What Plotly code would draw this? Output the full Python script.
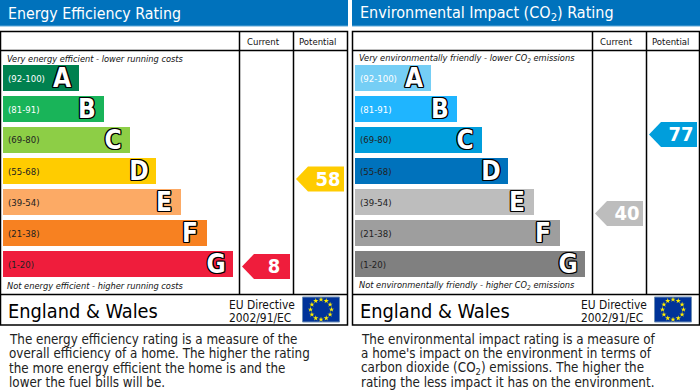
import math
import plotly.graph_objects as go

W, H = 700, 391
FONT = "DejaVu Sans Condensed, DejaVu Sans, sans-serif"
ROW0, PITCH = 78, 31

letters = ["A", "B", "C", "D", "E", "F", "G"]
ranges = ["(92-100)", "(81-91)", "(69-80)", "(55-68)", "(39-54)", "(21-38)", "(1-20)"]
range_colors = ["#ffffff", "#ffffff", "#222222", "#222222", "#222222", "#222222", "#222222"]

energy_lengths = [76, 101, 127, 153, 178, 204, 230]
env_lengths = [76, 102, 127, 153, 179, 205, 230]
energy_colors = ["#00814F", "#19B459", "#8DCE46", "#FFCC00", "#FCAA65", "#F78121", "#EF1D3C"]
env_colors = ["#75CEF5", "#1FB5FF", "#009EDC", "#0072BC", "#BDBDBD", "#9E9E9E", "#808080"]

energy_scores = [("Current", 8, 6.08, "#EF1D3C"), ("Potential", 58, 3.26, "#FFCC00")]
env_scores = [("Current", 40, 4.37, "#BDBDBD"), ("Potential", 77, 1.82, "#009EDC")]

energy_text = ["The energy efficiency rating is a measure of the",
               "overall efficiency of a home. The higher the rating",
               "the more energy efficient the home is and the",
               "lower the fuel bills will be."]
env_text = ["The environmental impact rating is a measure of",
            "a home's impact on the environment in terms of",
            "carbon dioxide (CO<sub>2</sub>) emissions. The higher the",
            "rating the less impact it has on the environment."]

panels = [
    dict(x0=0, x1=348, hdr0=0, hdr1=348, bar0=3, col1=239.5, col2=293.5, lengths=energy_lengths,
         colors=energy_colors, scores=energy_scores, title="Energy Efficiency Rating", title_size=15.8,
         top="Very energy efficient - lower running costs",
         bottom="Not energy efficient - higher running costs", text=energy_text),
    dict(x0=352, x1=700, hdr0=352, hdr1=700, bar0=355, col1=592.5, col2=646.5, lengths=env_lengths,
         colors=env_colors, scores=env_scores, title="Environmental Impact (CO<sub>2</sub>) Rating", title_size=16,
         top="Very environmentally friendly - lower CO<sub>2</sub> emissions",
         bottom="Not environmentally friendly - higher CO<sub>2</sub> emissions", text=env_text),
]

fig = go.Figure()
shapes, ann = [], []


def py(p):
    return 1 - p / H


def label(x, y, text, size, color="#111111", anchor="left", italic=False, bold=False):
    ann.append(dict(xref="x", yref="paper", x=x, y=py(y), text=text, showarrow=False,
                    xanchor=anchor, yanchor="middle", align=anchor,
                    borderpad=0, borderwidth=0,
                    font=dict(family=FONT, size=size, color=color,
                              style="italic" if italic else "normal",
                              weight="bold" if bold else "normal")))


def rect(x0, y0, x1, y1, fill=None, line=None, width=1.5):
    shapes.append(dict(type="rect", xref="x", yref="paper", x0=x0, x1=x1, y0=py(y0), y1=py(y1),
                       fillcolor=fill or "rgba(0,0,0,0)",
                       line=dict(color=line or "rgba(0,0,0,0)", width=width if line else 0),
                       layer="below"))


def seg(x0, y0, x1, y1):
    shapes.append(dict(type="line", xref="x", yref="paper", x0=x0, x1=x1, y0=py(y0), y1=py(y1),
                       line=dict(color="#000000", width=1.5), layer="above"))


OUTLINE = ",".join(f"{a}px {b}px 0 #000" for a, b in
                   [(1.2, 0), (-1.2, 0), (0, 1.2), (0, -1.2), (1, 1), (-1, 1), (1, -1), (-1, -1)])

for p in panels:
    # header and frame
    rect(p["hdr0"], 0, p["hdr1"], 26, fill="#0072BC")
    rect(p["hdr0"], 25.5, p["hdr1"], 26.5, fill="#5FA8D8")
    label(p["x0"] + 7.5, 13.5, p["title"], p["title_size"], color="#ffffff")
    rect(p["x0"] + 0.5, 31.5, p["x1"] - 0.5, 325, line="#000000")
    seg(p["x0"], 50.5, p["x1"], 50.5)
    seg(p["x0"], 294.5, p["x1"], 294.5)
    seg(p["col1"], 31.5, p["col1"], 294.5)
    seg(p["col2"], 31.5, p["col2"], 294.5)
    label(p["col1"] + 23.5, 41, "Current", 9.5, anchor="center")
    label(p["col2"] + 23.5, 41, "Potential", 9.5, anchor="center")
    label(p["x0"] + 6.5, 58.5, p["top"], 9.2, italic=True)
    label(p["x0"] + 6.5, 285, p["bottom"], 9.2, italic=True)

    # rating bands
    rows = list(range(len(letters)))
    fig.add_trace(go.Bar(y=rows, x=p["lengths"], base=[p["bar0"]] * 7, orientation="h", width=26 / PITCH,
                         marker=dict(color=p["colors"], line=dict(width=0)), hoverinfo="skip"))
    for r, t, c in zip(rows, ranges, range_colors):
        label(p["bar0"] + 4.5, ROW0 + PITCH * r, t, 9.5, color=c)
    fig.add_trace(go.Scatter(y=[r + 2.5 / PITCH for r in rows], x=[p["bar0"] + v - 17 for v in p["lengths"]],
                             mode="text", text=letters, hoverinfo="skip",
                             textfont=dict(family=FONT, size=26, color="#ffffff",
                                           weight="bold", shadow=OUTLINE)))

    # current / potential score arrows
    for col, score, row, color in p["scores"]:
        right = (p["col1"] if col == "Current" else p["col2"]) + 50.5
        left = right - 48
        neck = left + 12
        half = 12.5 / PITCH
        fig.add_trace(go.Scatter(x=[left, neck, right, right, neck, left],
                                 y=[row, row - half, row - half, row + half, row + half, row],
                                 mode="lines", fill="toself", fillcolor=color,
                                 line=dict(width=0, color=color), hoverinfo="skip"))
        fig.add_trace(go.Scatter(x=[right - 16], y=[row + 1.5 / PITCH], mode="text", text=[str(score)],
                                 hoverinfo="skip",
                                 textfont=dict(family=FONT, size=20,
                                               color="#ffffff", weight="bold")))

    # footer
    label(p["x0"] + 8, 311, "England &amp; Wales", 19.8, color="#000000")
    label(p["x0"] + 229, 304.5, "EU Directive", 11.9, color="#111111")
    label(p["x0"] + 229, 317.5, "2002/91/EC", 11.9, color="#111111")
    fx0, fx1 = p["x0"] + 302.5, p["x0"] + 339.5
    rect(fx0, 297, fx1, 322, fill="#003399", line="#6E8FB5", width=1)
    cx = (fx0 + fx1) / 2
    fig.add_trace(go.Scatter(x=[cx + 10.5 * math.cos(k * math.pi / 6) for k in range(12)],
                             y=[(309.5 + 10 * math.sin(k * math.pi / 6) - ROW0) / PITCH for k in range(12)],
                             mode="markers", hoverinfo="skip",
                             marker=dict(symbol="star", size=4, color="#FFEE00", line=dict(width=0))))

    # description
    for i, line in enumerate(p["text"]):
        label(p["x0"] + 8.5, 339.5 + 14.3 * i, line, 13.3, color="#222222")

fig.update_layout(
    width=W, height=H, margin=dict(l=0, r=0, t=0, b=0), showlegend=False, barmode="overlay",
    paper_bgcolor="#ffffff", plot_bgcolor="rgba(0,0,0,0)", shapes=shapes, annotations=ann,
    xaxis=dict(range=[0, W], visible=False, fixedrange=True),
    yaxis=dict(range=[(H - ROW0) / PITCH, -ROW0 / PITCH], visible=False, fixedrange=True),
)
fig.write_html("out.html", config={"displayModeBar": False},
               post_script="document.body.style.margin='0';document.documentElement.style.overflow='hidden';")
